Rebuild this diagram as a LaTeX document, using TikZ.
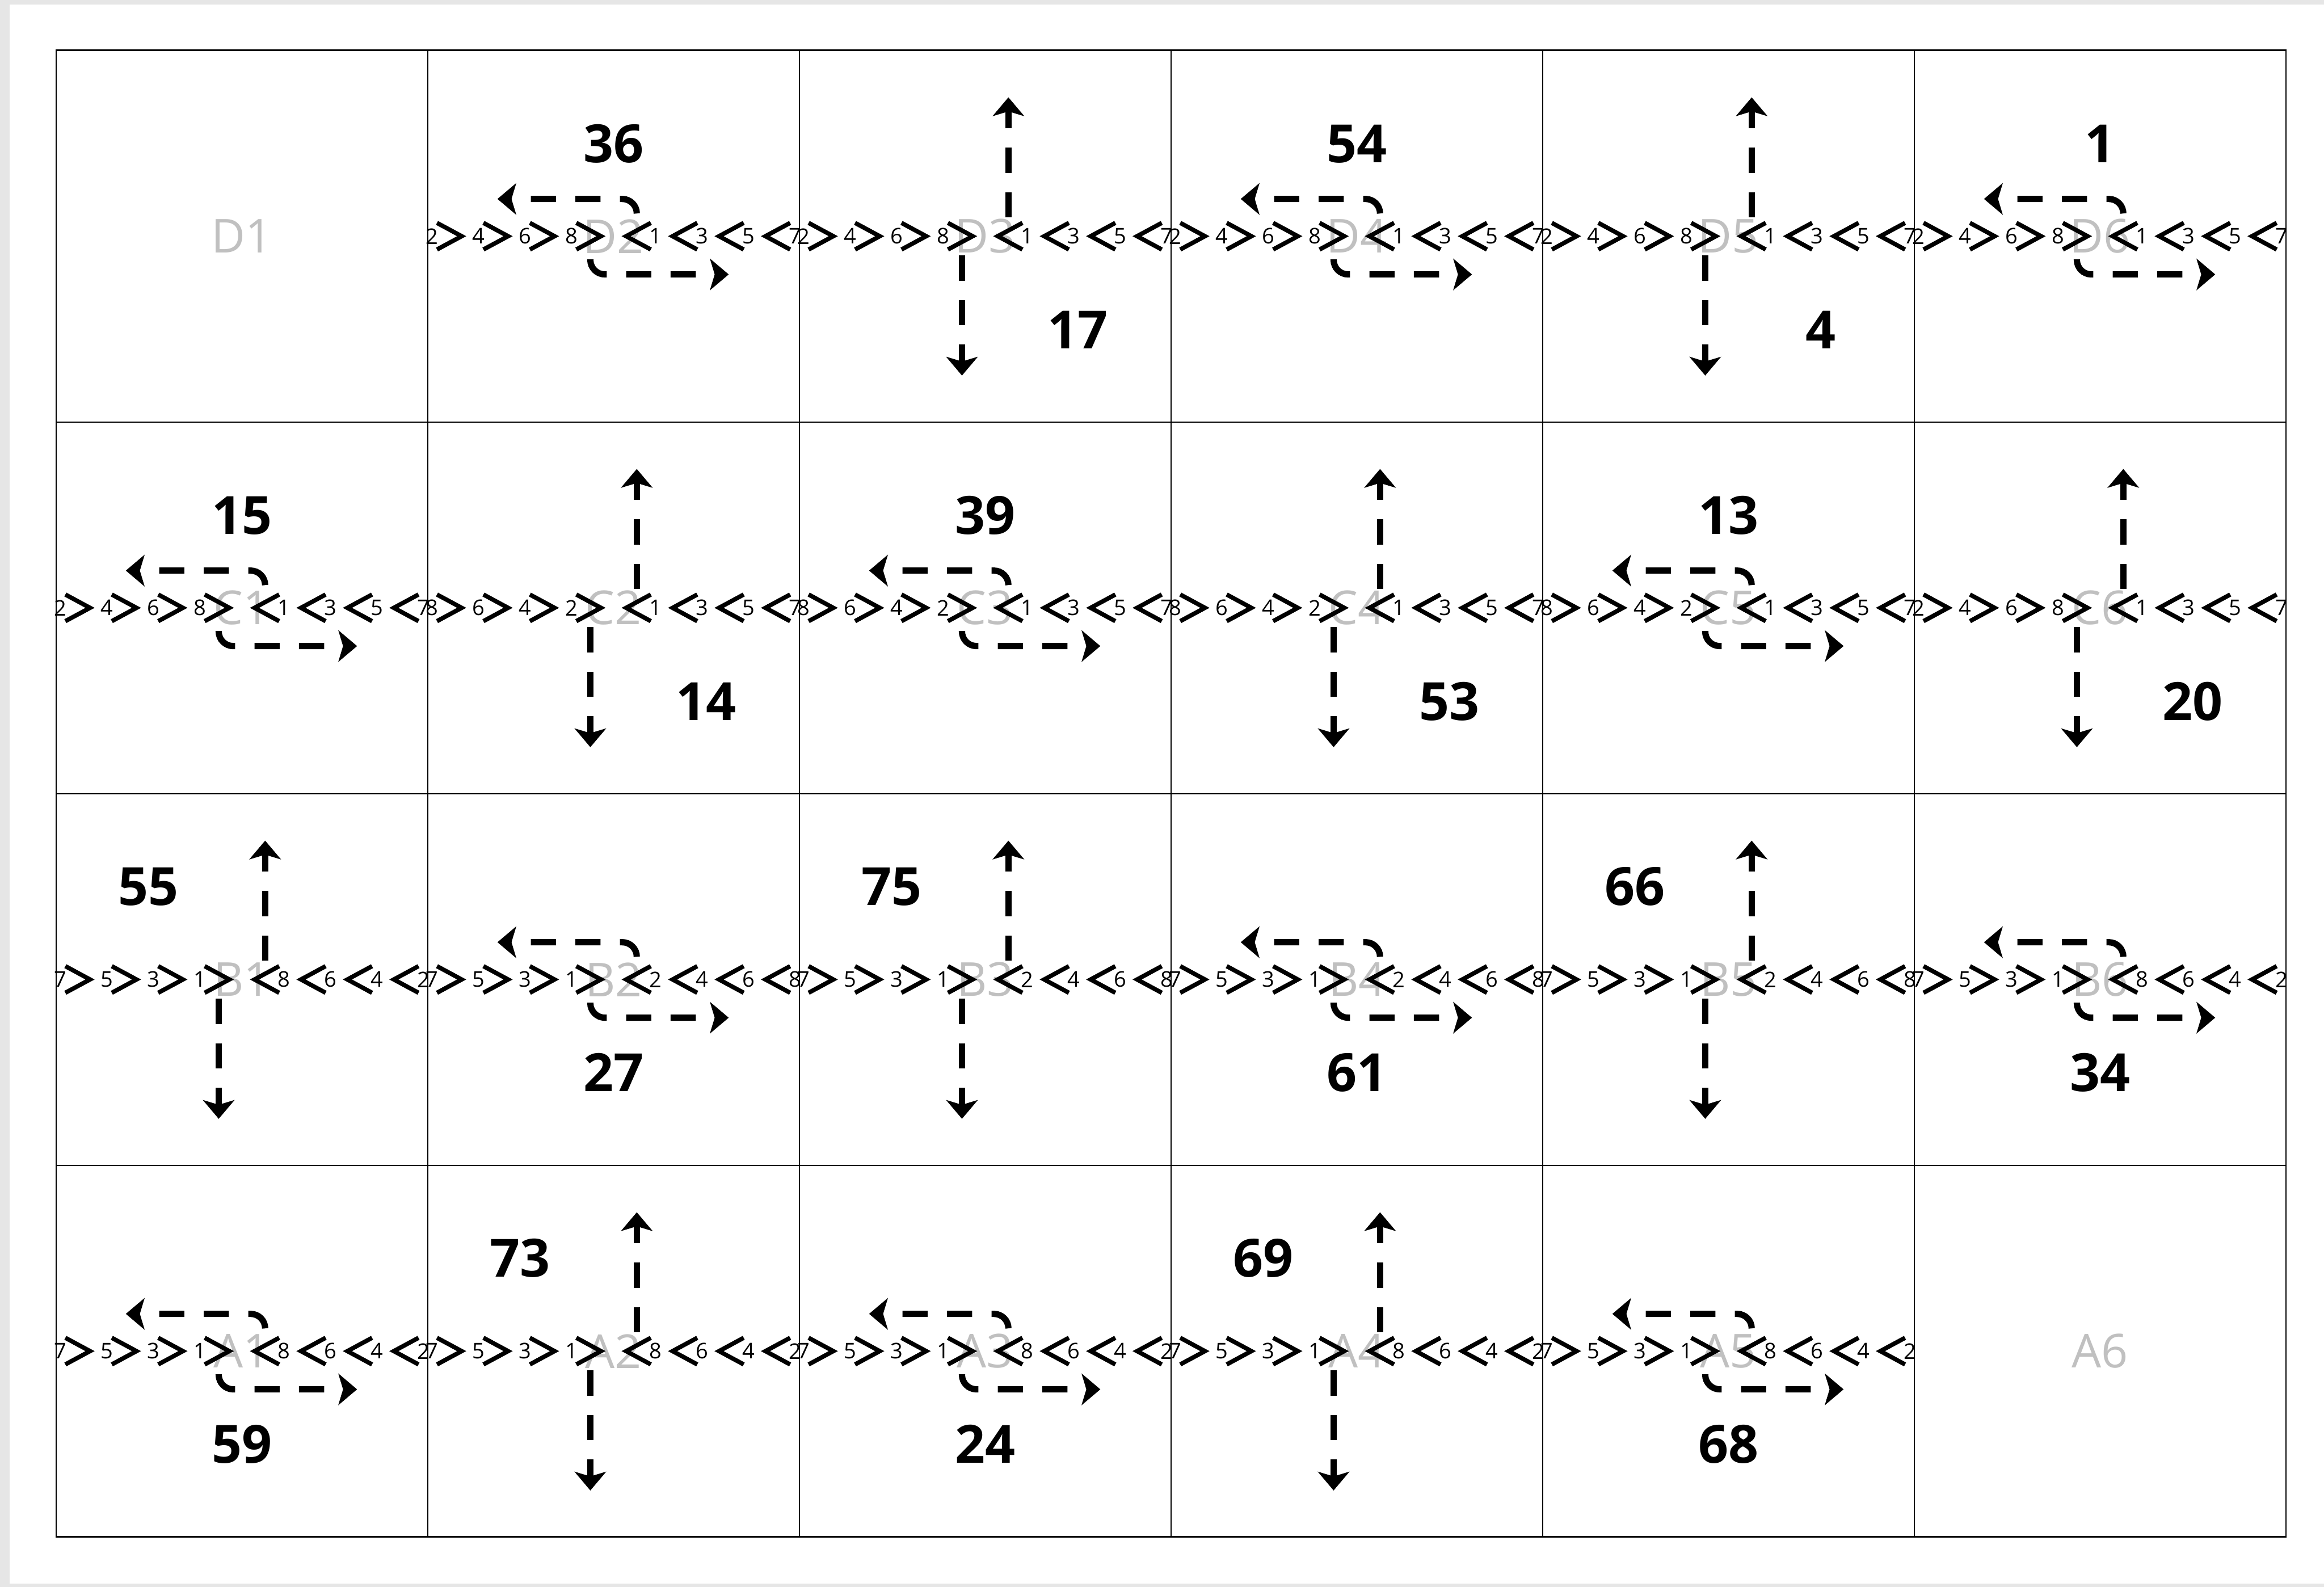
\documentclass[tikz,border=0pt]{standalone}
\usepackage{fontspec}
\setmainfont{Open Sans}
\usetikzlibrary{arrows.meta}
\definecolor{lblgray}{RGB}{192,192,192}
\definecolor{pagegray}{RGB}{230,230,230}
\newcommand{\cw}{7.682}   % one cell
\newcommand{\cp}{0.48}    % half the chevron pitch
\tikzset{
  cell/.style    = {draw, line width=0.6pt},
  frame/.style   = {draw, line width=0.9pt},
  celllbl/.style = {text=lblgray, inner sep=0pt, font=\fontsize{27.5}{28}\selectfont},
  chev/.style    = {line width=0.09cm},
  seqnum/.style  = {inner sep=0pt, font=\fontsize{12.7}{13}\selectfont},
  route/.style   = {line width=0.13cm, dash pattern=on 0.52cm off 0.4cm, rounded corners=0.3cm,
                    -{Stealth[length=0.39cm, width=0.66cm, inset=0.1cm, line width=0pt]}},
  bignum/.style  = {inner sep=0pt, font=\bfseries\fontsize{31}{31}\selectfont},
}
% #1 cell, #2 numbers before the > marks, #3 numbers after the < marks
\newcommand{\crow}[3]{%
  \begin{scope}[shift={(#1)}]
    \foreach \n [count=\i] in {#2} {%
      \draw[chev] ({-(9-2*\i)*\cp-0.29}, 0.275) -- ++(0.51,-0.275) -- ++(-0.51,-0.275);
      \node[seqnum] (#1-l\i) at ({-(9-2*\i)*\cp-0.39}, 0) {\n};
    }
    \foreach \n [count=\i] in {#3} {%
      \draw[chev] ({(2*\i-1)*\cp+0.29}, 0.275) -- ++(-0.51,-0.275) -- ++(0.51,-0.275);
      \node[seqnum] (#1-r\i) at ({(2*\i-1)*\cp+0.39}, 0) {\n};
    }
  \end{scope}
}
\newcommand{\uturn}[1]{%
  \begin{scope}[shift={(#1)}]
    \draw[route] (\cp, 0.47) -- (\cp, 0.77) -- (-2.40, 0.77);
    \draw[route] (-\cp, -0.48) -- (-\cp, -0.79) -- (2.38, -0.79);
  \end{scope}
}
\newcommand{\xing}[1]{%
  \begin{scope}[shift={(#1)}]
    \draw[route] (\cp, 0.39) -- (\cp, 2.87);
    \draw[route] (-\cp, -0.40) -- (-\cp, -2.88);
  \end{scope}
}

\begin{document}
\begin{tikzpicture}
  \useasboundingbox (0,0) rectangle (48.04,32.80);
  \fill[pagegray] (0,0) rectangle (48.04,32.80);
  \fill[white] (0.20,0.07) rectangle (48.04,32.71);
  % the cells
  \foreach \rn [count=\ri] in {D,C,B,A} {
    \foreach \col in {1,...,6} {
      \coordinate (\rn\col) at ({1.16+(\col-0.5)*\cw}, {1.03+(4.5-\ri)*\cw});
      \draw[cell] ({1.16+(\col-1)*\cw}, {1.03+(4-\ri)*\cw}) rectangle ++(\cw,\cw);
      \node[celllbl] (lbl-\rn\col) at (\rn\col) {\rn\col};
    }
  }
  \draw[frame] (1.16,1.03) rectangle ++({6*\cw},{4*\cw});

  \foreach \cl in {D2,D3,D4,D5,D6,C1,C6} {\crow{\cl}{2,4,6,8}{1,3,5,7}}
  \foreach \cl in {C2,C3,C4,C5} {\crow{\cl}{8,6,4,2}{1,3,5,7}}
  \foreach \cl in {B1,B6,A1,A2,A3,A4,A5} {\crow{\cl}{7,5,3,1}{8,6,4,2}}
  \foreach \cl in {B2,B3,B4,B5} {\crow{\cl}{7,5,3,1}{2,4,6,8}}

  \foreach \cl in {D2,D4,D6,C1,C3,C5,B2,B4,B6,A1,A3,A5} {\uturn{\cl}}
  \foreach \cl in {D3,D5,C2,C4,C6,B1,B3,B5,A2,A4} {\xing{\cl}}

  % counts
  \foreach \cl/\v/\dx/\dy in {D2/36/0/1.91, D3/17/1.91/-1.94, D4/54/0/1.91, D5/4/1.91/-1.94,
      D6/1/0/1.91, C1/15/0/1.91, C2/14/1.91/-1.94, C3/39/0/1.91, C4/53/1.91/-1.94,
      C5/13/0/1.91, C6/20/1.91/-1.94, B1/55/-1.93/1.92, B2/27/0/-1.92, B3/75/-1.93/1.92,
      B4/61/0/-1.92, B5/66/-1.93/1.92, B6/34/0/-1.92, A1/59/0/-1.92, A2/73/-1.93/1.92,
      A3/24/0/-1.92, A4/69/-1.93/1.92, A5/68/0/-1.92} {
    \node[bignum] (num-\cl) at ([shift={(\dx,\dy)}]\cl) {\v};
  }
\end{tikzpicture}
\end{document}
